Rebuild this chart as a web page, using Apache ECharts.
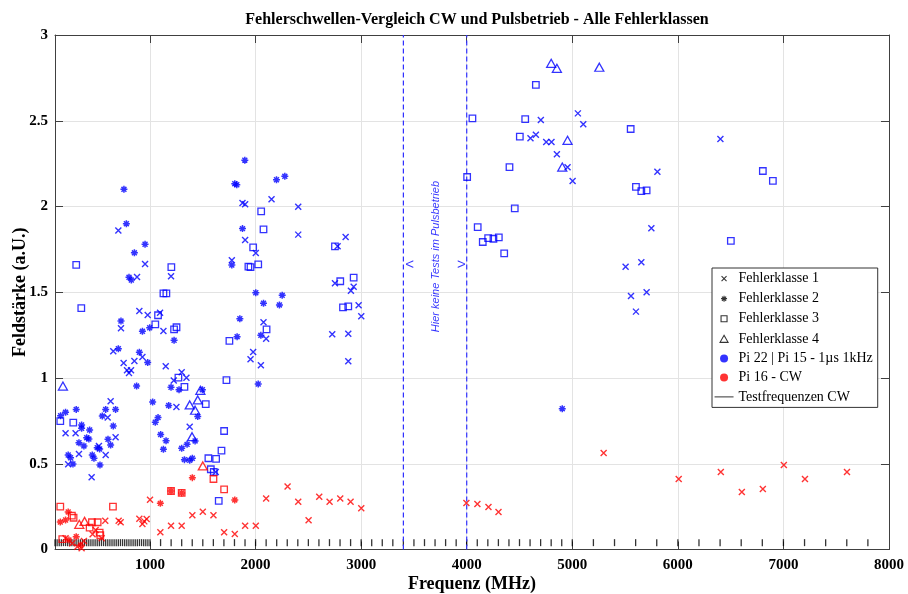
<!DOCTYPE html>
<html><head><meta charset="utf-8">
<script src="https://cdn.jsdelivr.net/npm/echarts@6/dist/echarts.min.js"></script>
<style>html,body{margin:0;padding:0;background:#fff}#c{width:908px;height:594px}</style>
</head><body><div id="c"></div>
<script>
// ---- Data (frequency in MHz, field strength in a.U.) ----
const pulseClass1 = [[700,1.86],[953,1.665],[1199,1.593],[877,1.589],[899,1.39],[978,1.367],[1095,1.38],[725,1.29],[1127,1.274],[652,1.156],[928,1.122],[852,1.099],[750,1.087],[1149,1.068],[782,1.045],[820,1.045],[801,1.029],[1300,1.033],[1345,1.002],[1225,0.985],[1250,0.831],[1376,0.716],[1623,0.452],
 [1876,2.02],[1901,2.013],[1901,1.805],[1775,1.686],[2151,2.042],[2404,1.999],[2404,1.836],[2002,1.729],[2777,1.768],[2853,1.822],[2752,1.552],[2929,1.532],[2903,1.509],[2976,1.424],[3001,1.36],[2726,1.255],[2878,1.258],[2878,1.097],[2075,1.325],[2100,1.229],[1977,1.152],[1952,1.109],[2050,1.074],
 [200,0.678],[295,0.678],[225,0.497],[327,0.557],[516,0.603],[580,0.551],[674,0.654],[627,0.864],[599,0.769],[447,0.421],
 [4702,2.504],[5053,2.543],[5104,2.479],[6403,2.394],[4604,2.398],[4655,2.419],[4753,2.376],[4803,2.376],[4854,2.304],[4955,2.229],[5003,2.149],[5806,2.203],[5749,1.873],[5505,1.649],[5654,1.675],[5556,1.478],[5704,1.5],[5603,1.387]];
const pulseClass2 = [[753,2.10],[776,1.90],[953,1.78],[852,1.73],[801,1.587],[823,1.571],[725,1.332],[997,1.293],[928,1.272],[1228,1.22],[1825,1.241],[1851,1.346],[700,1.171],[899,1.15],[978,1.09],[1898,2.27],[1803,2.133],[1822,2.127],[1876,1.871],[1775,1.659],[2198,2.156],[2277,2.176],[2002,1.497],[2252,1.482],[2075,1.436],[2226,1.426],[2050,1.249],[2025,0.965],[1199,0.946],[1275,0.932],[1025,0.86],[1177,0.84],[1496,0.932],[1452,0.775],[1076,0.769],[1050,0.742],[1101,0.67],[1152,0.634],[1127,0.584],[1427,0.633],[1351,0.613],[1300,0.59],[1326,0.524],[1376,0.52],[1401,0.532],[873,0.953],
 [153,0.78],[200,0.80],[301,0.817],[352,0.726],[352,0.707],[428,0.697],[400,0.652],[327,0.623],[374,0.604],[225,0.551],[247,0.535],[270,0.499],[453,0.551],[469,0.532],[526,0.493],[500,0.594],[523,0.586],[602,0.643],[627,0.609],[652,0.72],[580,0.817],[548,0.778],[674,0.817],[421,0.644],
 [4905,0.821]];
const pulseClass3 = [[301,1.66],[1202,1.646],[1127,1.494],[1155,1.494],[349,1.408],[1076,1.366],[1050,1.313],[1228,1.284],[1251,1.296],[1752,1.216],[1269,1.002],[1724,0.988],[1932,1.649],[2053,1.972],[2075,1.867],[1977,1.762],[1952,1.647],[2025,1.663],[2752,1.768],[2929,1.585],[2802,1.564],[2828,1.412],[2878,1.418],[2104,1.284],[1326,0.948],[1528,0.848],[1702,0.691],[1677,0.576],[1553,0.532],[1626,0.528],[1576,0.468],[1604,0.452],[1651,0.283],[150,0.749],[273,0.74],
 [4655,2.709],[4054,2.514],[4554,2.51],[5553,2.452],[4503,2.407],[4405,2.23],[4004,2.172],[5603,2.115],[5654,2.09],[5704,2.094],[4455,1.989],[4104,1.88],[4152,1.793],[4203,1.816],[4253,1.812],[4304,1.82],[4355,1.727],[6805,2.207],[6900,2.149],[6502,1.799]];
const pulseClass4 = [[175,0.953],[1477,0.928],[1452,0.872],[1376,0.843],[1427,0.812],[1398,0.658],[4800,2.835],[4854,2.806],[5256,2.812],[4955,2.386],[4905,2.23]];

const cwClass1 = [[1000,0.29],[1098,0.1],[1199,0.139],[1300,0.139],[1401,0.2],[1500,0.22],[1601,0.2],[1702,0.1],[1803,0.09],[1901,0.139],[2002,0.139],[2100,0.298],[2303,0.368],[2404,0.279],[2502,0.17],[2603,0.308],[2701,0.279],[2802,0.298],[2900,0.279],[3001,0.24],[3997,0.271],[4101,0.265],[4206,0.248],[4301,0.219],[5297,0.563],[6008,0.411],[6407,0.452],[6606,0.335],[6805,0.353],[7004,0.493],[7204,0.411],[7602,0.452],
 [576,0.168],[703,0.168],[722,0.159],[899,0.18],[928,0.149],[968,0.178],[946,0.164],[485,0.114],[542,0.065],[456,0.089],[200,0.065],[263,0.036],[311,0.016],[374,0.05],[352,0.007]];
const cwClass2 = [[1401,0.419],[1098,0.269],[1803,0.289],[1199,0.341],[1300,0.33],[225,0.219],[150,0.16],[200,0.172],[232,0.055],[301,0.075],[343,0.026]];
const cwClass3 = [[1601,0.411],[1702,0.351],[1199,0.341],[1300,0.33],[150,0.25],[260,0.197],[276,0.185],[450,0.159],[504,0.159],[649,0.25],[428,0.127],[523,0.098],[529,0.083],[169,0.06]];
const cwClass4 = [[1500,0.487],[330,0.147],[380,0.164]];

const testFreqs = [100,120,140,160,180,200,220,240,260,280,300,320,340,360,380,400,420,440,460,480,500,520,540,560,580,600,620,640,660,680,700,720,740,760,780,800,820,840,860,880,900,920,940,960,980,1000,
 1100,1200,1300,1400,1500,1600,1700,1800,1900,2000,2100,2200,2300,2400,2500,2600,2700,2800,2900,3000,3100,3200,3300,3400,3500,3600,3700,3800,3900,4000,4100,4200,4300,4400,4500,4600,4700,4800,4900,5000,
 5200,5400,5600,5800,6000,6200,6400,6600,6800,7000,7200,7400,7600,7800];
const testFreqLevel = 0.04;
const noPulseBand = [3400, 4000];

const classNames = ['Fehlerklasse 1','Fehlerklasse 2','Fehlerklasse 3','Fehlerklasse 4'];
const pulseName = 'Pi 22 | Pi 15 - 1µs 1kHz';
const cwName = 'Pi 16 - CW';
const testName = 'Testfrequenzen CW';

// ---- Styles ----
const BLUE = '#0000ff', RED = '#ff0000', DASH_BLUE = '#3030ff';
const SERIF = 'Liberation Serif';
const symbols = [
  {symbol:'path://M0,0L10,10M10,0L0,10', size:6, bw:1.4},
  {symbol:'path://M5,0L5,10M0,5L10,5M1.5,1.5L8.5,8.5M1.5,8.5L8.5,1.5', size:7, bw:1.5},
  {symbol:'rect', size:6.5, bw:1.3},
  {symbol:'triangle', size:[9,8], bw:1.3}
];
const legendIcons = [
  'path://M0,0M19,14M7,4.5L12,9.5M12,4.5L7,9.5',
  'path://M0,0M19,14M9.5,4L9.5,10M6.5,7L12.5,7M7.4,4.9L11.6,9.1M7.4,9.1L11.6,4.9',
  'path://M0,0M19,14M6.5,4L12.5,4L12.5,10L6.5,10Z',
  'path://M0,0M19,14M9.5,3.5L13.5,10.5L5.5,10.5Z'
];
const dotIcon = 'path://M0,0M19,14M13.5,7A4,4,0,1,1,5.5,7A4,4,0,1,1,13.5,7Z';
const lineIcon = 'path://M0,0M0,7L19,7M19,14';

const pulseSets = [pulseClass1, pulseClass2, pulseClass3, pulseClass4];
const cwSets = [cwClass1, cwClass2, cwClass3, cwClass4];

const series = [];
series.push({
  name: testName, type: 'scatter', symbol: 'rect', symbolSize: [1.3, 7],
  itemStyle: {color: '#000'}, data: testFreqs.map(f => [f, testFreqLevel]), z: 1, silent: true
});
noPulseBand.forEach((x, k) => {
  series.push({
    name: 'band' + k, type: 'line', symbol: 'none', silent: true, z: 2,
    lineStyle: {color: DASH_BLUE, type: [5, 3], width: 1.2},
    data: [[x, 0], [x, 3]]
  });
});
classNames.forEach((nm, i) => {
  const s = symbols[i];
  const mk = (arr, col) => arr.map(p => ({value: p, itemStyle: {color: 'rgba(0,0,0,0)', borderColor: col, borderWidth: s.bw}}));
  series.push({
    name: nm, type: 'scatter', symbol: s.symbol, symbolSize: s.size,
    itemStyle: {color: 'rgba(0,0,0,0)', borderColor: '#000', borderWidth: s.bw},
    data: mk(pulseSets[i], BLUE).concat(mk(cwSets[i], RED)), z: 3, silent: true
  });
});
series.push({name: pulseName, type: 'scatter', data: [], itemStyle: {color: BLUE}});
series.push({name: cwName, type: 'scatter', data: [], itemStyle: {color: RED}});
series.push({
  name: 'annot', type: 'scatter', symbol: 'circle', symbolSize: 1, silent: true,
  itemStyle: {color: 'rgba(0,0,0,0)'},
  data: [
    {value: [3713, 1.708], label: {show: true, position: 'inside', rotate: 90, formatter: 'Hier keine Tests im Pulsbetrieb', fontStyle: 'italic', fontFamily: 'Liberation Sans', fontSize: 11, color: BLUE}},
    {value: [3460, 1.659], label: {show: true, position: 'inside', formatter: '<', fontFamily: 'Liberation Sans', fontSize: 15, color: BLUE}},
    {value: [3950, 1.659], label: {show: true, position: 'inside', formatter: '>', fontFamily: 'Liberation Sans', fontSize: 15, color: BLUE}}
  ],
  z: 2
});

const axisLineStyle = {color: '#404040', width: 1};
const option = {
  backgroundColor: '#fff',
  animation: false,
  title: {
    text: 'Fehlerschwellen-Vergleich CW und Pulsbetrieb - Alle Fehlerklassen',
    left: 472, top: 7, textAlign: 'center',
    textStyle: {fontFamily: SERIF, fontWeight: 'bold', fontSize: 16, color: '#000'}
  },
  grid: {left: 55, right: 19, top: 35, bottom: 44.5, containLabel: false, outerBoundsMode: 'none'},
  legend: {
    orient: 'vertical', left: 712, top: 268, selectedMode: false,
    itemWidth: 19, itemHeight: 14, itemGap: 5, padding: [3, 5, 3, 2],
    backgroundColor: '#fff', borderColor: '#333', borderWidth: 1,
    textStyle: {fontFamily: SERIF, fontSize: 14, color: '#000'},
    data: classNames.map((nm, i) => ({name: nm, icon: legendIcons[i], itemStyle: {color: 'rgba(0,0,0,0)', borderColor: '#000', borderWidth: 1.1}}))
      .concat([
        {name: pulseName, icon: dotIcon, itemStyle: {color: BLUE, borderWidth: 0}},
        {name: cwName, icon: dotIcon, itemStyle: {color: RED, borderWidth: 0}},
        {name: testName, icon: lineIcon, itemStyle: {color: 'rgba(0,0,0,0)', borderColor: '#000', borderWidth: 1}}
      ])
  },
  xAxis: [{
    type: 'value', min: 100, max: 8000, splitNumber: 8,
    name: 'Frequenz (MHz)', nameLocation: 'middle', nameGap: 26, nameMoveOverlap: false,
    nameTextStyle: {fontFamily: SERIF, fontWeight: 'bold', fontSize: 18, color: '#000'},
    axisLine: {show: true, onZero: false, lineStyle: axisLineStyle},
    axisTick: {show: true, inside: true, length: 8, lineStyle: axisLineStyle},
    axisLabel: {showMinLabel: false, margin: 8, formatter: v => String(v), fontFamily: SERIF, fontWeight: 'bold', fontSize: 15, color: '#000'},
    splitLine: {show: true, lineStyle: {color: '#e3e3e3', width: 1}}
  }, {
    type: 'value', min: 100, max: 8000, splitNumber: 8, position: 'top',
    axisLine: {show: true, onZero: false, lineStyle: axisLineStyle},
    axisTick: {show: true, inside: true, length: 8, lineStyle: axisLineStyle},
    axisLabel: {show: false}, splitLine: {show: false}
  }],
  yAxis: [{
    type: 'value', min: 0, max: 3, interval: 0.5,
    name: 'Feldstärke (a.U.)', nameLocation: 'middle', nameGap: 26, nameRotate: 90, nameMoveOverlap: false,
    nameTextStyle: {fontFamily: SERIF, fontWeight: 'bold', fontSize: 18, color: '#000'},
    axisLine: {show: true, onZero: false, lineStyle: axisLineStyle},
    axisTick: {show: true, inside: true, length: 8, lineStyle: axisLineStyle},
    axisLabel: {margin: 7, formatter: v => String(v), fontFamily: SERIF, fontWeight: 'bold', fontSize: 15, color: '#000'},
    splitLine: {show: true, lineStyle: {color: '#e3e3e3', width: 1}}
  }, {
    type: 'value', min: 0, max: 3, interval: 0.5, position: 'right',
    axisLine: {show: true, onZero: false, lineStyle: axisLineStyle},
    axisTick: {show: true, inside: true, length: 8, lineStyle: axisLineStyle},
    axisLabel: {show: false}, splitLine: {show: false}
  }],
  series: series
};
const chart = echarts.init(document.getElementById('c'), null, {renderer: 'canvas'});
chart.setOption(option);
</script>
</body></html>
